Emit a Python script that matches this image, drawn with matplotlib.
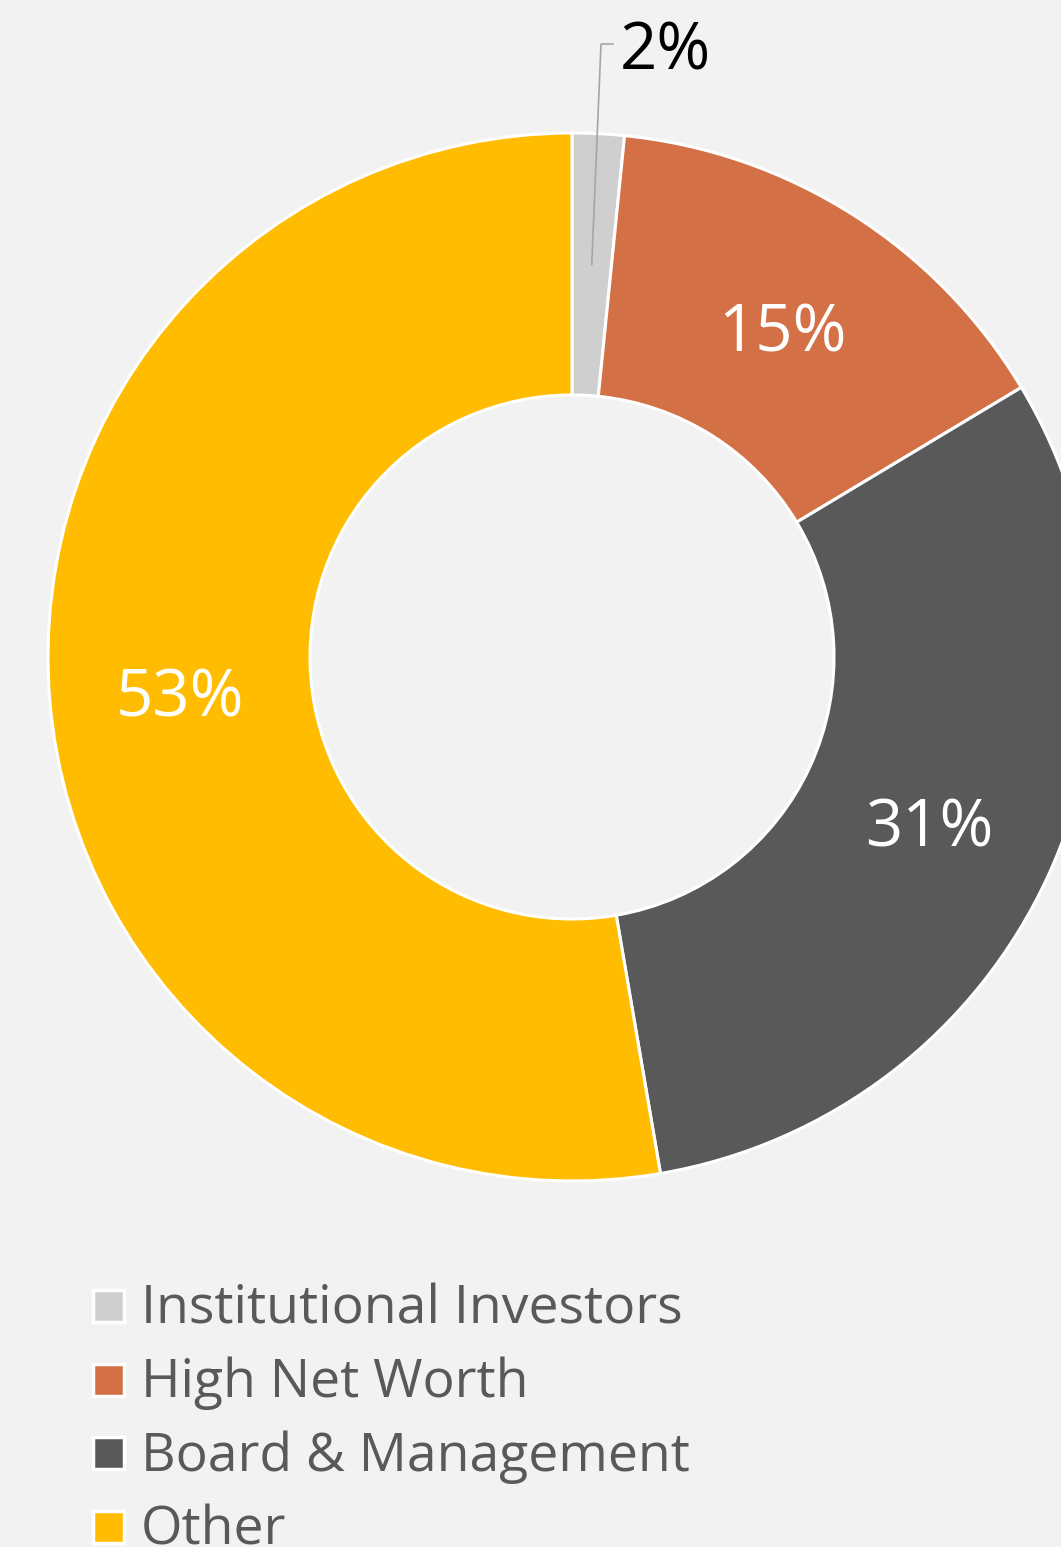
"""Shareholder structure donut chart."""
import numpy as np
import matplotlib.pyplot as plt
from matplotlib.patches import Rectangle

plt.rcParams["font.family"] = ["Open Sans", "DejaVu Sans"]

# data -----------------------------------------------------------------------
categories = ["Institutional Investors", "High Net Worth", "Board & Management", "Other"]
shares = [1.6, 14.8, 30.9, 52.7]
colors = ["#CFCFCF", "#D37045", "#595959", "#FFBC00"]

BG = "#F2F2F2"
W, H = 1061, 1547
DPI = 100

fig = plt.figure(figsize=(W / DPI, H / DPI), dpi=DPI)
fig.patch.set_facecolor(BG)
ax = fig.add_axes([0, 0, 1, 1])
ax.set_facecolor(BG)

# pixel-like data coords, y measured from bottom
cx, cy = 572, H - 657
r_out, r_in = 524, 262

wedges, texts, autotexts = ax.pie(
    shares, radius=r_out, center=(cx, cy), startangle=90, counterclock=False,
    colors=colors, autopct=lambda p: f"{p:.0f}%", pctdistance=0.75,
    wedgeprops=dict(width=r_out - r_in, edgecolor="white", linewidth=2.2),
    textprops=dict(color="white", fontsize=47),
)

# nudge labels down a touch so the digits sit centred like the original
for t in autotexts:
    x, y = t.get_position()
    t.set_position((x, y - 9))

# smallest slice: label pulled outside with a leader line
t0 = autotexts[0]
x0, y0 = t0.get_position()
y0 += 9
lab_x, lab_y = 665, H - 53
ax.plot([x0, 601, 613], [y0, H - 44, H - 44], color="#A6A6A6", linewidth=1.2, zorder=3)
t0.set_position((lab_x, lab_y))
t0.set_color("black")

ax.set_xlim(0, W)
ax.set_ylim(0, H)
ax.set_aspect("auto")
ax.axis("off")

# legend -----------------------------------------------------------------------
row0, step = 1306, 73.5
for i, (name, col) in enumerate(zip(categories, colors)):
    yc = H - (row0 + i * step)
    ax.add_patch(Rectangle((93, yc - 16), 31, 32, facecolor=col,
                           edgecolor="white", linewidth=2.5, clip_on=False))
    ax.text(141, yc - 4, name, fontsize=38.5, color="#595959", va="center", ha="left")

fig.savefig("out.png", dpi=DPI, facecolor=BG)
